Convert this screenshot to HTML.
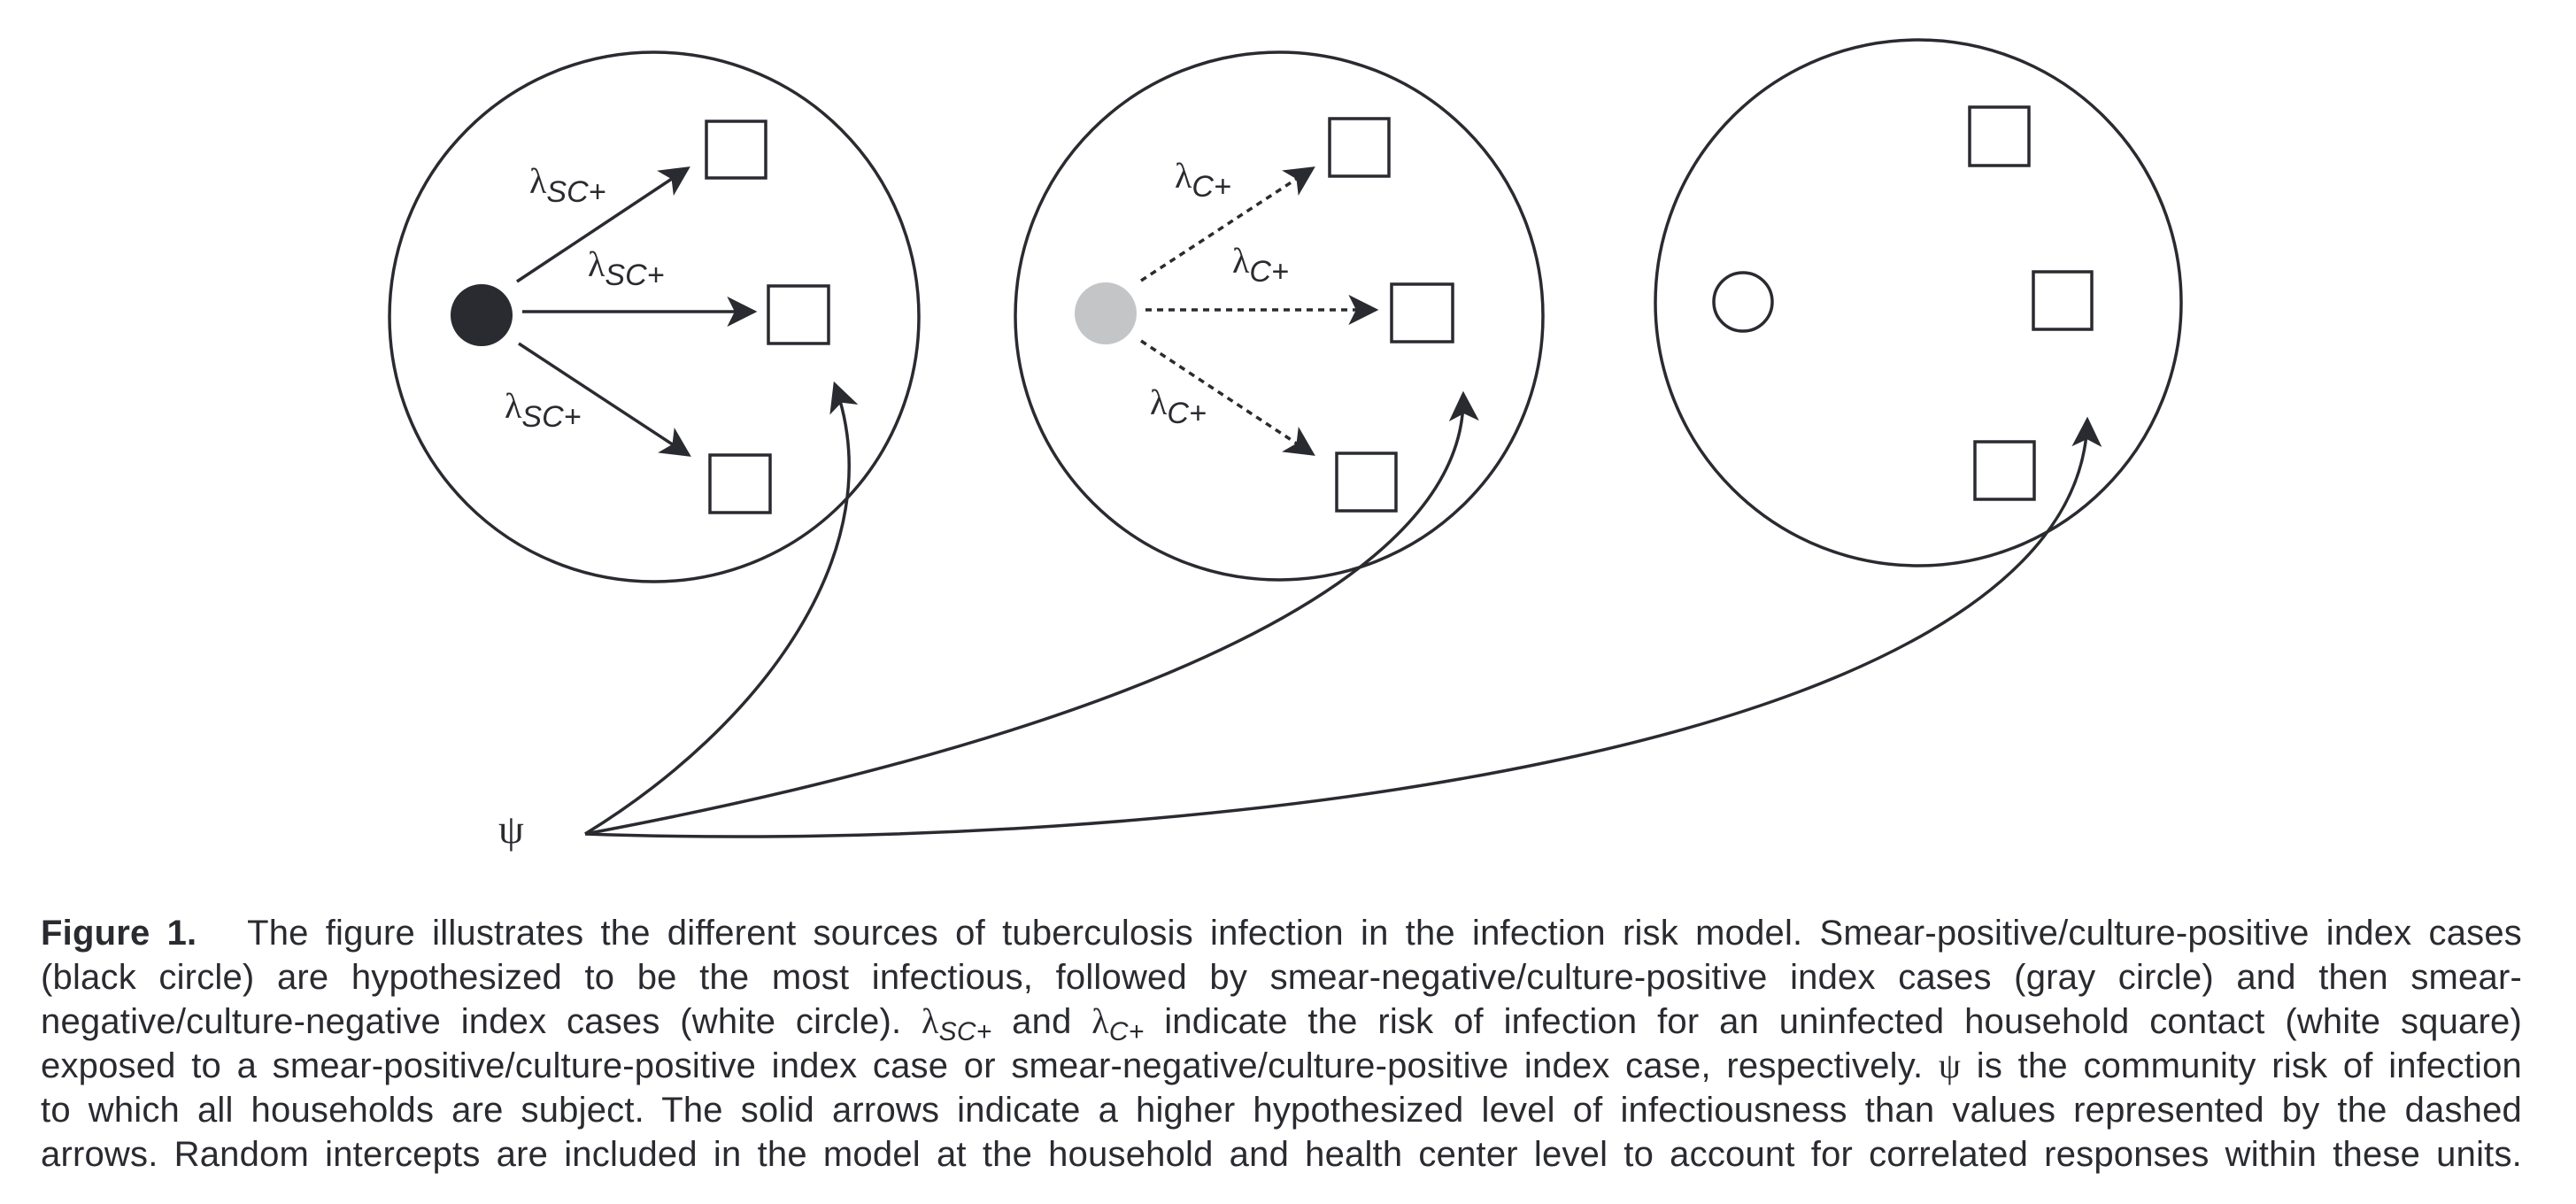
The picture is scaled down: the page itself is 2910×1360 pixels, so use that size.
<!DOCTYPE html>
<html><head><meta charset="utf-8">
<style>
html,body{margin:0;padding:0;background:#fff;}
body{width:2910px;height:1360px;position:relative;overflow:hidden;font-family:"Liberation Sans",sans-serif;color:#2a2b30;}
svg{position:absolute;left:0;top:0;}
.cap{position:absolute;left:46px;width:2803px;font-size:40px;line-height:50px;text-align:justify;text-align-last:justify;white-space:nowrap;letter-spacing:0.2px;}
.lam{font-family:"Liberation Serif","DejaVu Serif",serif;}
.sub{font-style:italic;font-size:30px;position:relative;top:8px;}
</style></head><body>
<svg width="2910" height="1000" viewBox="0 0 2910 1000">
<defs>
<marker id="ah" viewBox="0 0 20 20" refX="18" refY="10" markerWidth="34" markerHeight="34" markerUnits="userSpaceOnUse" orient="auto">
<path d="M0,0 L20,10 L0,20 L5,10 Z" fill="#2a2b30"/>
</marker>
</defs>
<g fill="none" stroke="#2a2b30" stroke-width="3.5">
<circle cx="739" cy="358" r="299"/>
<circle cx="1445" cy="357" r="298"/>
<circle cx="2167" cy="342" r="297"/>
</g>
<circle cx="544" cy="356" r="35" fill="#2a2b30"/>
<circle cx="1249" cy="354" r="35" fill="#c4c5c7"/>
<circle cx="1969" cy="341" r="33" fill="#fff" stroke="#2a2b30" stroke-width="3.5"/>
<g fill="#fff" stroke="#2a2b30" stroke-width="3.5">
<rect x="798" y="137" width="67" height="64"/>
<rect x="868" y="323" width="68" height="65"/>
<rect x="802" y="514" width="68" height="65"/>
<rect x="1502" y="134" width="67" height="65"/>
<rect x="1572" y="321" width="69" height="65"/>
<rect x="1510" y="512" width="67" height="65"/>
<rect x="2225" y="121" width="67" height="66"/>
<rect x="2297" y="307" width="66" height="65"/>
<rect x="2231" y="499" width="67" height="65"/>
</g>
<g stroke="#2a2b30" stroke-width="3.5" fill="none" marker-end="url(#ah)">
<line x1="584" y1="318" x2="777" y2="190"/>
<line x1="590" y1="352" x2="852" y2="352"/>
<line x1="586" y1="388" x2="778" y2="514"/>
</g>
<g stroke="#2a2b30" stroke-width="3.5" fill="none" stroke-dasharray="7,6" marker-end="url(#ah)">
<line x1="1289" y1="317" x2="1483" y2="190"/>
<line x1="1294" y1="350" x2="1554" y2="350"/>
<line x1="1289" y1="385" x2="1483" y2="513"/>
</g>
<g stroke="#2a2b30" stroke-width="3.5" fill="none" marker-end="url(#ah)">
<path d="M661,942 C860,820 1010,620 943,434"/>
<path d="M661,942 C1100,860 1660,700 1653,445"/>
<path d="M661,942 C1300,965 2350,860 2358,474"/>
</g>
<g fill="#2a2b30" font-family="Liberation Serif, DejaVu Serif, serif" font-size="40">
<text x="598" y="218">λ<tspan font-family="Liberation Sans, sans-serif" font-style="italic" font-size="34" dy="10">SC+</tspan></text>
<text x="664" y="312">λ<tspan font-family="Liberation Sans, sans-serif" font-style="italic" font-size="34" dy="10">SC+</tspan></text>
<text x="570" y="472">λ<tspan font-family="Liberation Sans, sans-serif" font-style="italic" font-size="34" dy="10">SC+</tspan></text>
<text x="1327" y="212">λ<tspan font-family="Liberation Sans, sans-serif" font-style="italic" font-size="34" dy="10">C+</tspan></text>
<text x="1392" y="308">λ<tspan font-family="Liberation Sans, sans-serif" font-style="italic" font-size="34" dy="10">C+</tspan></text>
<text x="1299" y="468">λ<tspan font-family="Liberation Sans, sans-serif" font-style="italic" font-size="34" dy="10">C+</tspan></text>
<text x="563" y="952" font-size="46">ψ</text>
</g>
</svg>
<div>
<div class="cap" style="top:1029px"><b>Figure 1.</b>&nbsp;&nbsp; The figure illustrates the different sources of tuberculosis infection in the infection risk model. Smear-positive/culture-positive index cases</div>
<div class="cap" style="top:1079px">(black circle) are hypothesized to be the most infectious, followed by smear-negative/culture-positive index cases (gray circle) and then smear-</div>
<div class="cap" style="top:1129px">negative/culture-negative index cases (white circle). <span class="lam">λ</span><span class="sub">SC+</span> and <span class="lam">λ</span><span class="sub">C+</span> indicate the risk of infection for an uninfected household contact (white square)</div>
<div class="cap" style="top:1179px">exposed to a smear-positive/culture-positive index case or smear-negative/culture-positive index case, respectively. <span class="lam">ψ</span> is the community risk of infection</div>
<div class="cap" style="top:1229px">to which all households are subject. The solid arrows indicate a higher hypothesized level of infectiousness than values represented by the dashed</div>
<div class="cap" style="top:1279px">arrows. Random intercepts are included in the model at the household and health center level to account for correlated responses within these units.</div>
</div>
</body></html>
